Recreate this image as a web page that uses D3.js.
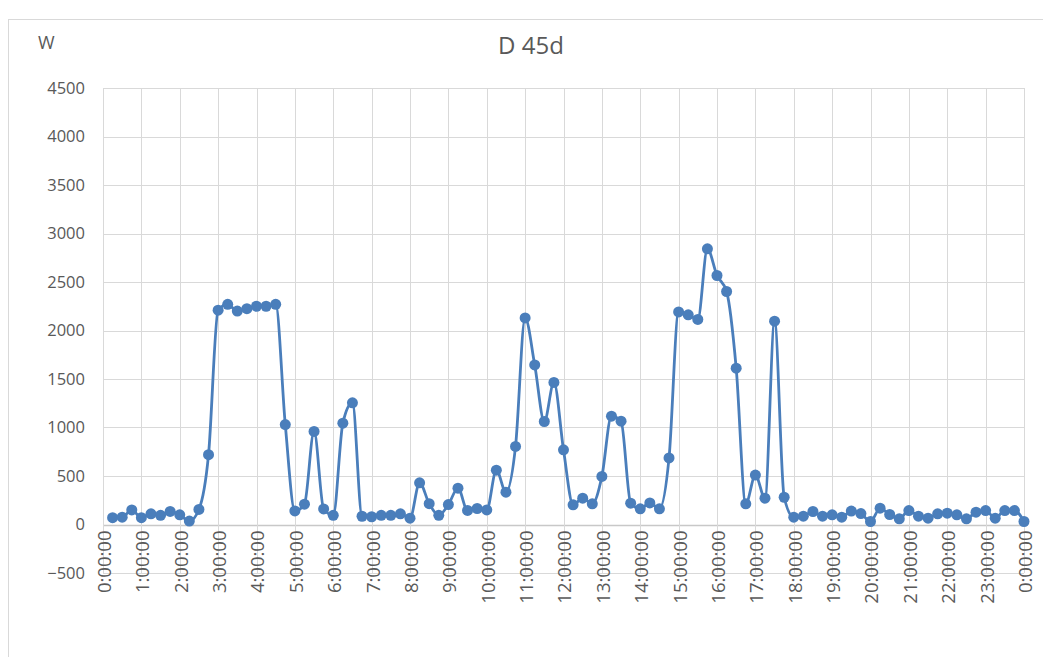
<!DOCTYPE html>
<html>
<head>
<meta charset="utf-8">
<script src="https://cdn.jsdelivr.net/npm/d3@7"></script>
<style>
  html, body { margin: 0; padding: 0; background: #ffffff; }
  svg { display: block; }
  text { font-family: "Open Sans", "Noto Sans", sans-serif; fill: #595959; }
</style>
</head>
<body>
<svg id="chart" width="1043" height="657"></svg>
<script>
// Power readings (W) sampled every 15 minutes over one day
const times = [
  "0:15","0:30","0:45","1:00","1:15","1:30","1:45","2:00",
  "2:15","2:30","2:45","3:00","3:15","3:30","3:45","4:00",
  "4:15","4:30","4:45","5:00","5:15","5:30","5:45","6:00",
  "6:15","6:30","6:45","7:00","7:15","7:30","7:45","8:00",
  "8:15","8:30","8:45","9:00","9:15","9:30","9:45","10:00",
  "10:15","10:30","10:45","11:00","11:15","11:30","11:45","12:00",
  "12:15","12:30","12:45","13:00","13:15","13:30","13:45","14:00",
  "14:15","14:30","14:45","15:00","15:15","15:30","15:45","16:00",
  "16:15","16:30","16:45","17:00","17:15","17:30","17:45","18:00",
  "18:15","18:30","18:45","19:00","19:15","19:30","19:45","20:00",
  "20:15","20:30","20:45","21:00","21:15","21:30","21:45","22:00",
  "22:15","22:30","22:45","23:00","23:15","23:30","23:45","24:00"
];
const power = [
  70, 75, 150, 70, 110, 95, 135, 100,
  35, 155, 720, 2210, 2270, 2200, 2225, 2250,
  2250, 2270, 1030, 140, 210, 960, 160, 95,
  1045, 1255, 85, 80, 95, 95, 110, 65,
  430, 215, 95, 205, 375, 145, 165, 150,
  560, 333, 805, 2130, 1645, 1062, 1465, 770,
  203, 271, 213, 495, 1117, 1065, 220, 162,
  222, 162, 686, 2192, 2162, 2114, 2842, 2567,
  2402, 1612, 213, 510, 271, 2096, 281, 75,
  86, 134, 86, 100, 75, 139, 113, 31,
  168, 103, 59, 144, 86, 65, 110, 117,
  100, 59, 127, 144, 65, 144, 144, 31
];
const hourLabels = [
  "0:00:00","1:00:00","2:00:00","3:00:00","4:00:00","5:00:00","6:00:00",
  "7:00:00","8:00:00","9:00:00","10:00:00","11:00:00","12:00:00",
  "13:00:00","14:00:00","15:00:00","16:00:00","17:00:00","18:00:00",
  "19:00:00","20:00:00","21:00:00","22:00:00","23:00:00","0:00:00"
];
const yTicks = [-500, 0, 500, 1000, 1500, 2000, 2500, 3000, 3500, 4000, 4500];

const chartTitle = "D 45d";
const unitLabel = "W";

const svg = d3.select("#chart");
const W = 1043, H = 657;
const plot = { left: 103, right: 1024, top: 88, bottom: 573 };

const toMinutes = s => { const [h, m] = s.split(":").map(Number); return h * 60 + m; };
const data = times.map((t, i) => ({ t: toMinutes(t), v: power[i] }));

const x = d3.scaleLinear().domain([0, 1440]).range([plot.left, plot.right]);
const y = d3.scaleLinear().domain([-500, 4500]).range([plot.bottom, plot.top]);

// outer chart frame
svg.append("rect")
  .attr("x", 8.5).attr("y", 19.5)
  .attr("width", W + 20).attr("height", H + 20)
  .attr("fill", "none").attr("stroke", "#d9d9d9").attr("stroke-width", 1);

// horizontal gridlines + value labels
const yAxis = d3.axisLeft(y).tickValues(yTicks).tickSize(0).tickPadding(18)
  .tickFormat(d3.format("d"));
const gy = svg.append("g").attr("transform", `translate(${plot.left},0)`).call(yAxis);
gy.select(".domain").remove();
gy.selectAll("text").attr("font-size", 16.5).style("fill", "#595959")
  .attr("font-family", '"Open Sans", sans-serif');

svg.append("g").selectAll("line").data(yTicks).join("line")
  .attr("x1", plot.left).attr("x2", plot.right)
  .attr("y1", d => Math.round(y(d)) + 0.5).attr("y2", d => Math.round(y(d)) + 0.5)
  .attr("stroke", d => d === 0 ? "#c8c8c8" : "#d9d9d9")
  .attr("stroke-width", d => d === 0 ? 1.5 : 1);

// vertical gridlines at each hour
const hourMinutes = hourLabels.map((_, i) => i * 60);
svg.append("g").selectAll("line").data(hourMinutes).join("line")
  .attr("x1", d => Math.round(x(d)) + 0.5).attr("x2", d => Math.round(x(d)) + 0.5)
  .attr("y1", plot.top).attr("y2", plot.bottom)
  .attr("stroke", "#d9d9d9").attr("stroke-width", 1);

// hour labels, rotated, hanging below the zero line
const xAxis = d3.axisBottom(x).tickValues(hourMinutes).tickSize(0)
  .tickFormat((d, i) => hourLabels[i]);
const gx = svg.append("g").attr("transform", `translate(0,${y(0)})`).call(xAxis);
gx.select(".domain").remove();
gx.selectAll("text")
  .attr("font-size", 18.5).style("fill", "#595959")
  .attr("font-family", '"Open Sans", sans-serif')
  .attr("transform", "rotate(-90)")
  .attr("text-anchor", "end")
  .attr("x", -6).attr("y", 1).attr("dy", "0.35em");

// power curve (smoothed, without overshoot between samples)
const line = d3.line().x(d => x(d.t)).y(d => y(d.v)).curve(d3.curveMonotoneX);
svg.append("path").datum(data)
  .attr("d", line)
  .attr("fill", "none").attr("stroke", "#4a7ebb").attr("stroke-width", 2.8)
  .attr("stroke-linejoin", "round");

svg.append("g").selectAll("circle").data(data).join("circle")
  .attr("cx", d => x(d.t)).attr("cy", d => y(d.v)).attr("r", 5.5)
  .attr("fill", "#4a7ebb");

// titles
svg.append("text").attr("x", 531).attr("y", 54).attr("text-anchor", "middle")
  .attr("font-size", 24).text(chartTitle);
svg.append("text").attr("x", 38).attr("y", 49)
  .attr("font-size", 18).text(unitLabel);
</script>
</body>
</html>
